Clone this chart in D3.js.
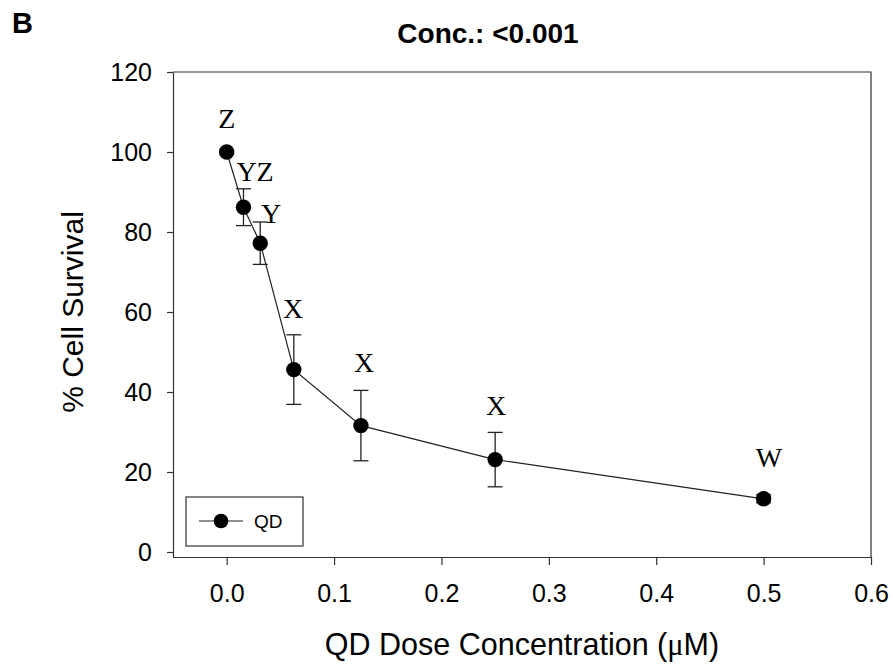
<!DOCTYPE html>
<html>
<head>
<meta charset="utf-8">
<script src="https://cdn.jsdelivr.net/npm/d3@7"></script>
<style>
  body { margin: 0; background: #fff; }
  svg { display: block; font-family: Arial, "Liberation Sans", sans-serif; }
</style>
</head>
<body>
<div id="chart"></div>
<script>
// QD dose (uM) vs % cell survival, mean +/- error
const doses = [0, 0.015625, 0.03125, 0.0625, 0.125, 0.25, 0.5]
const survival = [100, 86.2, 77.2, 45.6, 31.6, 23.1, 13.3]
const errors = [0.5, 4.6, 5.3, 8.7, 8.8, 6.8, 1.0]

// significance letters and where they sit (data units)
const letters = ['Z', 'YZ', 'Y', 'X', 'X', 'X', 'W']
const letterX = [0, 0.0264, 0.0413, 0.0618, 0.1279, 0.2508, 0.505]
const letterY = [106, 92.75, 82.25, 58.5, 45, 34.25, 21.25]

const xTicks = [0, 0.1, 0.2, 0.3, 0.4, 0.5, 0.6]
const yTicks = [0, 20, 40, 60, 80, 100, 120]

const w = 893
const h = 665
const m = { top: 72, right: 22, bottom: 108, left: 173 }

const svg = d3.select('#chart')
    .append('svg')
    .attr('width', w)
    .attr('height', h)

const xScale = d3.scaleLinear()
    .domain([-0.05, 0.6])
    .range([m.left, w - m.right])

const yScale = d3.scaleLinear()
    .domain([-1.25, 120])
    .range([h - m.bottom, m.top])

// axes
const xAxis = d3.axisBottom(xScale)
    .tickValues(xTicks)
    .tickFormat(d3.format('.1f'))
    .tickSize(8)
    .tickSizeOuter(0)
    .tickPadding(19)

const yAxis = d3.axisLeft(yScale)
    .tickValues(yTicks)
    .tickFormat(d3.format('d'))
    .tickSize(6)
    .tickSizeOuter(0)
    .tickPadding(15)

svg.append('g')
    .attr('id', 'x-axis')
    .attr('transform', 'translate(0,' + (h - m.bottom) + ')')
    .call(xAxis)

svg.append('g')
    .attr('id', 'y-axis')
    .attr('transform', 'translate(' + m.left + ',0)')
    .call(yAxis)

svg.selectAll('.domain, .tick line')
    .attr('stroke', '#333')
    .attr('stroke-width', 1.2)

svg.selectAll('.tick text')
    .attr('font-size', 25)
    .attr('font-family', 'Arial, "Liberation Sans", sans-serif')
    .attr('fill', '#000')

// top and right frame
svg.append('path')
    .attr('d', 'M' + m.left + ',' + m.top + 'H' + (w - m.right) + 'V' + (h - m.bottom))
    .attr('fill', 'none')
    .attr('stroke', '#333')
    .attr('stroke-width', 1.2)

// connecting line
const line = d3.line()
    .x((d, i) => xScale(doses[i]))
    .y(d => yScale(d))

svg.append('path')
    .datum(survival)
    .attr('d', line)
    .attr('fill', 'none')
    .attr('stroke', '#222')
    .attr('stroke-width', 1.2)

// error bars
const capW = 7.5
const eb = svg.append('g')
    .attr('stroke', '#222')
    .attr('stroke-width', 1.3)

survival.forEach((v, i) => {
    const x = xScale(doses[i])
    const y1 = yScale(v + errors[i])
    const y2 = yScale(v - errors[i])
    eb.append('line').attr('x1', x).attr('x2', x).attr('y1', y1).attr('y2', y2)
    eb.append('line').attr('x1', x - capW).attr('x2', x + capW).attr('y1', y1).attr('y2', y1)
    eb.append('line').attr('x1', x - capW).attr('x2', x + capW).attr('y1', y2).attr('y2', y2)
})

// points
svg.selectAll('circle.pt')
    .data(survival)
    .enter()
    .append('circle')
    .attr('class', 'pt')
    .attr('cx', (d, i) => xScale(doses[i]))
    .attr('cy', d => yScale(d))
    .attr('r', 7.7)
    .attr('fill', '#000')

// letters
svg.selectAll('text.letter')
    .data(letters)
    .enter()
    .append('text')
    .attr('class', 'letter')
    .attr('x', (d, i) => xScale(letterX[i]))
    .attr('y', (d, i) => yScale(letterY[i]))
    .attr('text-anchor', 'middle')
    .attr('font-family', '"Liberation Serif", "Times New Roman", serif')
    .attr('font-size', 28)
    .text(d => d)

// legend
const lg = svg.append('g')
lg.append('rect')
    .attr('x', 186).attr('y', 497)
    .attr('width', 117).attr('height', 49)
    .attr('fill', '#fff')
    .attr('stroke', '#333')
    .attr('stroke-width', 1.2)
lg.append('line')
    .attr('x1', 199).attr('x2', 243)
    .attr('y1', 521).attr('y2', 521)
    .attr('stroke', '#222').attr('stroke-width', 1.2)
lg.append('circle')
    .attr('cx', 221).attr('cy', 521).attr('r', 7.3)
    .attr('fill', '#000')
lg.append('text')
    .attr('x', 254).attr('y', 528)
    .attr('font-size', 19)
    .text('QD')

// titles
svg.append('text')
    .attr('x', 488).attr('y', 43)
    .attr('text-anchor', 'middle')
    .attr('font-size', 28)
    .attr('font-weight', 'bold')
    .text('Conc.: <0.001')

svg.append('text')
    .attr('x', 12).attr('y', 33)
    .attr('font-size', 29)
    .attr('font-weight', 'bold')
    .text('B')

svg.append('text')
    .attr('x', 522).attr('y', 655)
    .attr('text-anchor', 'middle')
    .attr('font-size', 30.5)
    .html('QD Dose Concentration (<tspan font-family="Liberation Serif, serif">\u03bc</tspan>M)')

svg.append('text')
    .attr('transform', 'translate(83,312) rotate(-90)')
    .attr('text-anchor', 'middle')
    .attr('font-size', 30)
    .text('% Cell Survival')
</script>
</body>
</html>
